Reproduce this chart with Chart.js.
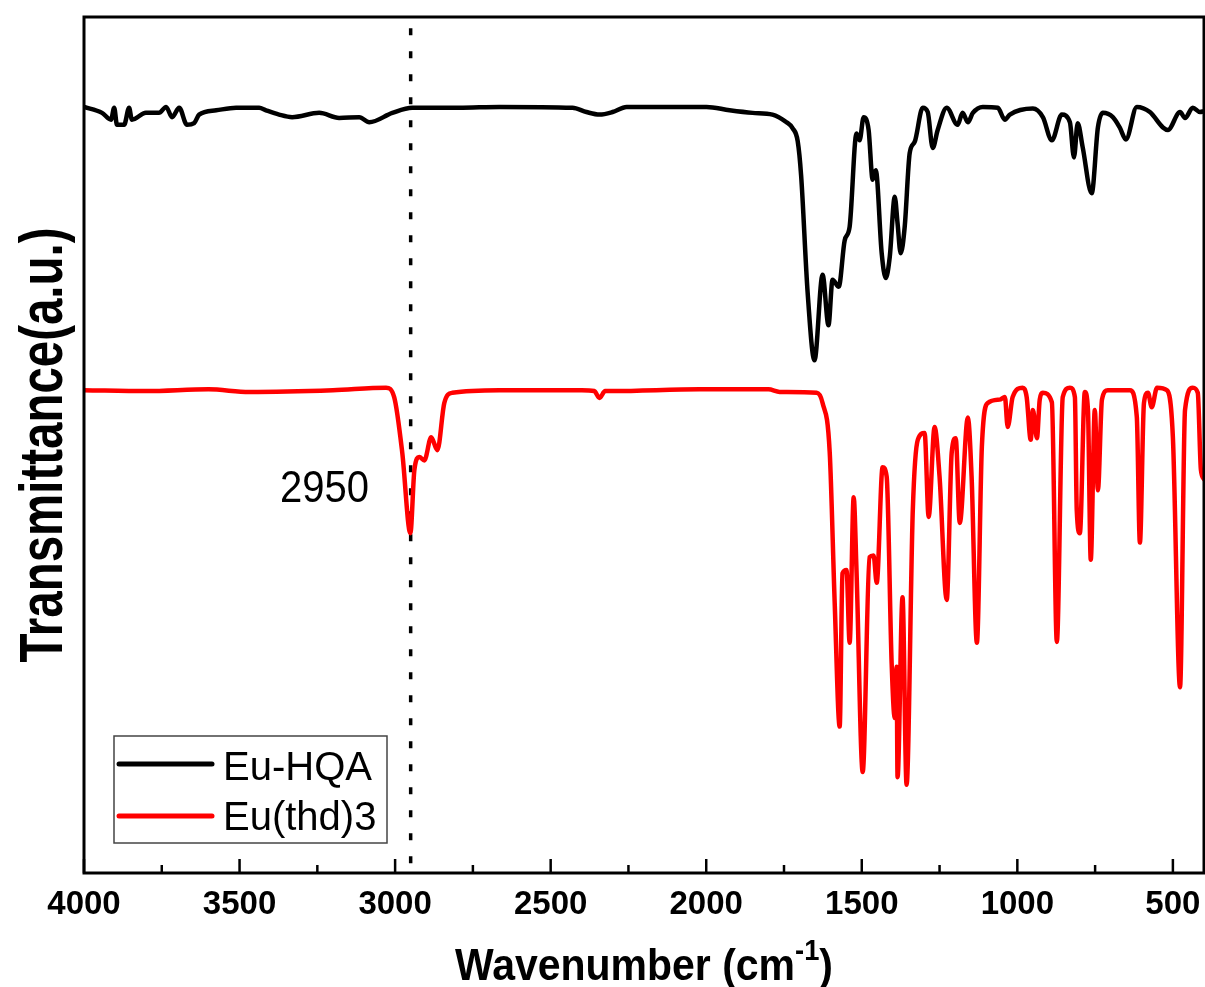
<!DOCTYPE html>
<html><head><meta charset="utf-8">
<script src="https://cdn.jsdelivr.net/npm/chart.js@4.4.1/dist/chart.umd.min.js"></script>
<style>html,body{margin:0;padding:0;background:#fff}canvas{display:block}</style>
</head><body>
<canvas id="c" width="1205" height="987"></canvas>
<script>
// ---------------- data ----------------
const seriesNames = ['Eu-HQA', 'Eu(thd)3'];

const euHqaWn = [4000,3942,3913,3903,3894,3871,3855,3846,3801,3759,3736,3717,3694,3669,3646,3630,3575,3511,3437,3415,3373,3331,3244,3180,3115,3083,3009,2945,2890,2794,2665,2430,2385,2343,2301,2256,1999,1925,1851,1787,1742,1722,1706,1695,1674,1652,1626,1607,1594,1574,1555,1539,1517,1507,1494,1478,1465,1455,1436,1423,1410,1394,1385,1375,1362,1346,1330,1304,1288,1272,1256,1227,1192,1176,1159,1143,1111,1063,1040,1024,950,918,889,857,831,818,806,790,761,741,725,693,671,651,616,574,532,516,477,461,436,413,400];
const euHqaT  = [89.5,88.8,88.0,89.4,87.4,87.4,89.4,88.0,88.8,88.8,89.5,88.3,89.4,87.4,87.6,88.6,89.1,89.4,89.4,89.1,88.6,88.3,88.8,88.2,88.3,87.7,88.8,89.4,89.4,89.4,89.5,89.4,88.9,88.6,88.9,89.5,89.5,89.1,88.8,88.6,87.7,87.0,85.5,81.5,67.8,59.9,69.9,64.0,69.3,68.5,73.9,75.5,86.4,85.6,88.3,86.8,81.0,82.1,72.4,69.5,72.0,79.0,75.9,72.4,75.5,84.1,85.4,89.4,88.9,84.7,86.8,89.4,87.4,88.8,87.7,88.8,89.5,89.4,88.0,88.6,89.3,88.3,85.6,88.6,87.7,83.6,87.6,84.8,79.4,87.1,88.8,88.3,87.1,85.7,89.5,88.9,87.1,86.8,88.9,88.2,89.4,88.9,89.0];

const euThdWn = [4000,3800,3600,3469,3200,3029,3003,2977,2951,2938,2922,2906,2884,2864,2842,2816,2665,2400,2360,2343,2325,2300,2022,1800,1764,1645,1626,1603,1587,1571,1562,1549,1539,1526,1517,1497,1475,1462,1452,1433,1420,1404,1394,1388,1385,1369,1356,1336,1320,1298,1285,1266,1250,1227,1211,1198,1185,1159,1147,1130,1114,1095,1057,1040,1031,1015,983,970,957,950,937,928,918,889,873,854,831,815,809,799,783,773,764,751,741,728,709,638,616,606,593,580,568,551,519,500,477,461,436,420,410,400];
const euThdT  = [56.4,56.3,56.5,56.2,56.4,56.7,55.6,49.1,39.7,47.1,48.6,48.2,50.9,49.4,54.9,56.1,56.4,56.4,56.3,55.5,56.3,56.3,56.5,56.5,56.2,56.1,54.9,49.1,31.5,17.1,35.0,35.4,26.9,43.9,35.4,11.8,36.9,37.1,33.9,47.4,46.3,24.5,18.1,24.1,11.2,32.2,10.3,42.4,50.6,51.4,41.6,52.1,46.3,31.9,49.1,50.8,40.9,53.2,46.3,26.9,49.8,54.9,55.3,55.6,52.1,55.6,56.7,55.6,50.6,54.1,50.8,55.3,56.1,55.0,27.0,55.6,56.7,55.6,42.4,39.7,56.2,54.1,36.6,54.1,44.7,55.3,56.4,56.4,53.3,38.6,54.9,56.1,54.4,56.7,56.4,50.9,21.7,54.1,56.7,56.1,47.1,46.0];

const xTickValues = [4000,3500,3000,2500,2000,1500,1000,500];
const xMinorStep = 250;
const xMin = 400, xMax = 4000, yMin = 0, yMax = 100;
const markerWn = 2950;
const markerLabel = '2950';
const markerTop = 98.7;
const xTitleMain = 'Wavenumber (cm', xTitleSup = '-1', xTitleEnd = ')';
const yTitle = 'Transmittance(a.u.)';

// ---------------- layout / style ----------------
const FONT = '"Liberation Sans", Arial, Helvetica, sans-serif';
const AREA = {left: 84, top: 17, right: 1204, bottom: 873};
const W = 1205, H = 987;

function fitText(ctx, text, x, y, font, targetW, sy, align) {
  ctx.save();
  ctx.font = font;
  const w = ctx.measureText(text).width;
  const sx = targetW ? targetW / w : 1;
  ctx.translate(x, y);
  ctx.scale(sx, sy || 1);
  ctx.textAlign = align || 'left';
  ctx.textBaseline = 'alphabetic';
  ctx.fillText(text, 0, 0);
  ctx.restore();
}

const framePlugin = {
  id: 'frame',
  afterDatasetsDraw(chart) {
    const ctx = chart.ctx, a = chart.chartArea, xs = chart.scales.x;
    ctx.save();
    ctx.strokeStyle = '#000';
    ctx.lineWidth = 3;
    ctx.strokeRect(a.left, a.top, a.right - a.left, a.bottom - a.top);
    ctx.lineWidth = 2.5;
    for (let v = xMax; v >= 500; v -= xMinorStep) {
      const px = xs.getPixelForValue(v);
      const major = v % 500 === 0;
      ctx.beginPath();
      ctx.moveTo(px, a.bottom);
      ctx.lineTo(px, a.bottom - (major ? 14 : 8));
      ctx.stroke();
    }
    ctx.restore();
  },
  afterDraw(chart) {
    const ctx = chart.ctx, a = chart.chartArea;
    ctx.save();
    ctx.fillStyle = '#000';
    // x title with superscript
    const fMain = 'bold 45px ' + FONT, fSup = 'bold 30px ' + FONT;
    ctx.font = fMain;
    const w1 = ctx.measureText(xTitleMain).width, w3 = ctx.measureText(xTitleEnd).width;
    ctx.font = fSup;
    const w2 = ctx.measureText(xTitleSup).width;
    const total = w1 + w2 + w3, target = 378, sx = target / total;
    const cx = (a.left + a.right) / 2;
    ctx.save();
    ctx.translate(cx - target / 2, 0);
    ctx.scale(sx, 1);
    ctx.textBaseline = 'alphabetic'; ctx.textAlign = 'left';
    ctx.font = fMain; ctx.fillText(xTitleMain, 0, 980);
    ctx.font = fSup; ctx.fillText(xTitleSup, w1, 960);
    ctx.font = fMain; ctx.fillText(xTitleEnd, w1 + w2, 980);
    ctx.restore();
    // y title (rotated)
    ctx.save();
    ctx.translate(62, (a.top + a.bottom) / 2);
    ctx.rotate(-Math.PI / 2);
    ctx.font = 'bold 47px ' + FONT;
    const yw = ctx.measureText(yTitle).width;
    ctx.scale(435 / yw, 44 / (0.716 * 47));
    ctx.textAlign = 'center'; ctx.textBaseline = 'alphabetic';
    ctx.fillText(yTitle, 0, 0);
    ctx.restore();
    // marker label
    fitText(ctx, markerLabel, 280, 502, '44px ' + FONT, 89, 1, 'left');
    // legend
    const lb = {x: 114, y: 736, w: 273, h: 107};
    ctx.fillStyle = '#fff';
    ctx.fillRect(lb.x, lb.y, lb.w, lb.h);
    ctx.strokeStyle = '#444';
    ctx.lineWidth = 1.5;
    ctx.strokeRect(lb.x, lb.y, lb.w, lb.h);
    const rows = [{c: '#000', y: 764, ty: 780}, {c: '#ff0000', y: 816, ty: 830}];
    rows.forEach((r, i) => {
      ctx.strokeStyle = r.c; ctx.lineWidth = 5; ctx.lineCap = 'round';
      ctx.beginPath(); ctx.moveTo(119, r.y); ctx.lineTo(212, r.y); ctx.stroke();
      ctx.fillStyle = '#000';
      ctx.font = '40px ' + FONT; ctx.textAlign = 'left'; ctx.textBaseline = 'alphabetic';
      ctx.fillText(seriesNames[i], 223, r.ty);
    });
    ctx.restore();
  }
};

const toPts = (xs, ys) => xs.map((x, i) => ({x: x, y: ys[i]}));

new Chart(document.getElementById('c').getContext('2d'), {
  type: 'line',
  data: {
    datasets: [
      {label: seriesNames[0], data: toPts(euHqaWn, euHqaT), borderColor: '#000000', borderWidth: 4.5,
       pointRadius: 0, cubicInterpolationMode: 'monotone', borderCapStyle: 'round', borderJoinStyle: 'round', fill: false},
      {label: seriesNames[1], data: toPts(euThdWn, euThdT), borderColor: '#ff0000', borderWidth: 4.5,
       pointRadius: 0, cubicInterpolationMode: 'monotone', borderCapStyle: 'round', borderJoinStyle: 'round', fill: false},
      {label: 'marker', data: [{x: markerWn, y: markerTop}, {x: markerWn, y: yMin}], borderColor: '#000000',
       borderWidth: 3.5, borderDash: [7, 16], pointRadius: 0, fill: false}
    ]
  },
  options: {
    responsive: false, animation: false, devicePixelRatio: 1,
    layout: {padding: {left: 0, top: AREA.top, right: W - AREA.right, bottom: 0}},
    plugins: {legend: {display: false}, tooltip: {enabled: false}},
    scales: {
      x: {
        type: 'linear', reverse: true, min: xMin, max: xMax,
        afterBuildTicks: s => { s.ticks = xTickValues.map(v => ({value: v})); },
        afterFit: s => { s.height = H - AREA.bottom; s.paddingLeft = 0; s.paddingRight = 0; },
        grid: {display: false, drawTicks: false, tickLength: 0},
        border: {display: false},
        ticks: {font: {family: FONT, size: 33, weight: 'bold'}, color: '#000', padding: 12,
                maxRotation: 0, minRotation: 0, autoSkip: false,
                callback: v => String(v)}
      },
      y: {
        type: 'linear', min: yMin, max: yMax,
        afterFit: s => { s.width = AREA.left; s.paddingTop = 0; s.paddingBottom = 0; },
        ticks: {display: false},
        grid: {display: false, drawTicks: false, tickLength: 0},
        border: {display: false}
      }
    }
  },
  plugins: [framePlugin]
});
</script>
</body></html>
